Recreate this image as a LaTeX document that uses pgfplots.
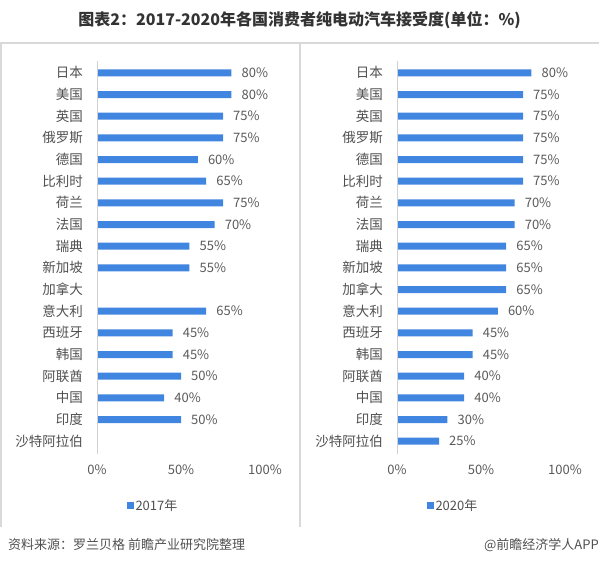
\documentclass[border=0pt]{standalone}
\usepackage{fontspec}
\setmainfont{Noto Sans CJK SC}
\usepackage{pgfplots}
\pgfplotsset{compat=1.18}
\definecolor{barblue}{RGB}{64,134,224}
\definecolor{txt}{RGB}{80,80,80}
\definecolor{numtxt}{RGB}{89,89,89}
\definecolor{titlecol}{RGB}{51,51,51}
\definecolor{framegray}{RGB}{217,217,217}
\definecolor{axgray}{RGB}{208,208,208}
\pgfplotsset{panel/.style={
  xbar, scale only axis, width=168pt, height=390pt,
  xmin=0, xmax=100, ymin=-0.5, ymax=17.5, y dir=reverse,
  bar width=7pt,
  axis line style={draw=none},
  xtick={0,50,100}, xticklabels={0\%,50\%,100\%},
  ytick={0,...,17},
  yticklabels={日本,美国,英国,俄罗斯,德国,比利时,荷兰,法国,瑞典,新加坡,加拿大,意大利,西班牙,韩国,阿联酋,中国,印度,沙特阿拉伯},
  major tick length=0pt,
  tick style={draw=none},
  /pgf/number format/assume math mode=true,
  xticklabel style={font=\fontsize{13}{15}\selectfont, text=numtxt, inner sep=0pt, yshift=-13pt},
  yticklabel style={font=\fontsize{13.5}{15}\selectfont, text=txt, inner sep=0pt, xshift=-14pt},
  nodes near coords={\pgfmathprintnumber{\pgfplotspointmeta}\%},
  nodes near coords style={font=\fontsize{13}{15}\selectfont, text=numtxt, inner sep=0pt, xshift=10pt},
  clip=false,
  legend style={draw=none, fill=none, at={(0.333,-0.138)}, anchor=center, font=\fontsize{13}{15}\selectfont, text=txt},
  legend image code/.code={\fill[barblue] (0pt,-3.5pt) rectangle (7pt,3.5pt);},
}}
\begin{document}
\begin{tikzpicture}
\path[use as bounding box] (0pt,0pt) rectangle (599pt,566pt);
\draw[framegray, line width=1.5pt] (0pt,523pt) -- (599pt,523pt);
\draw[framegray, line width=1.5pt] (0.75pt,523pt) -- (0.75pt,39pt);
\draw[framegray, line width=1.5pt] (300pt,523pt) -- (300pt,39pt);
\node[font=\bfseries\fontsize{16}{18}\selectfont, text=titlecol] at (299.5pt,546pt) {图表2：2017-2020年各国消费者纯电动汽车接受度(单位：\%)};
\node[font=\fontsize{13}{15}\selectfont, text=txt, anchor=west, inner sep=0pt] at (8pt,21pt) {资料来源：罗兰贝格 前瞻产业研究院整理};
\node[font=\fontsize{13}{15}\selectfont, text=txt, anchor=east, inner sep=0pt] at (599pt,21pt) {@前瞻经济学人APP};

\begin{axis}[panel, at={(97pt,114pt)}, anchor=south west]
\addplot[fill=barblue, draw=none] coordinates {
(80,0) (80,1) (75,2) (75,3) (60,4) (65,5) (75,6) (70,7) (55,8) (55,9)
(65,11) (45,12) (45,13) (50,14) (40,15) (50,16)};
\addlegendentry{2017年}
\draw[axgray, line width=1pt] (axis cs:0,-0.55) -- (axis cs:0,17.6);
\end{axis}

\begin{axis}[panel, at={(397pt,114pt)}, anchor=south west]
\addplot[fill=barblue, draw=none] coordinates {
(80,0) (75,1) (75,2) (75,3) (75,4) (75,5) (70,6) (70,7) (65,8) (65,9)
(65,10) (60,11) (45,12) (45,13) (40,14) (40,15) (30,16) (25,17)};
\addlegendentry{2020年}
\draw[axgray, line width=1pt] (axis cs:0,-0.55) -- (axis cs:0,17.6);
\end{axis}
\end{tikzpicture}
\end{document}
